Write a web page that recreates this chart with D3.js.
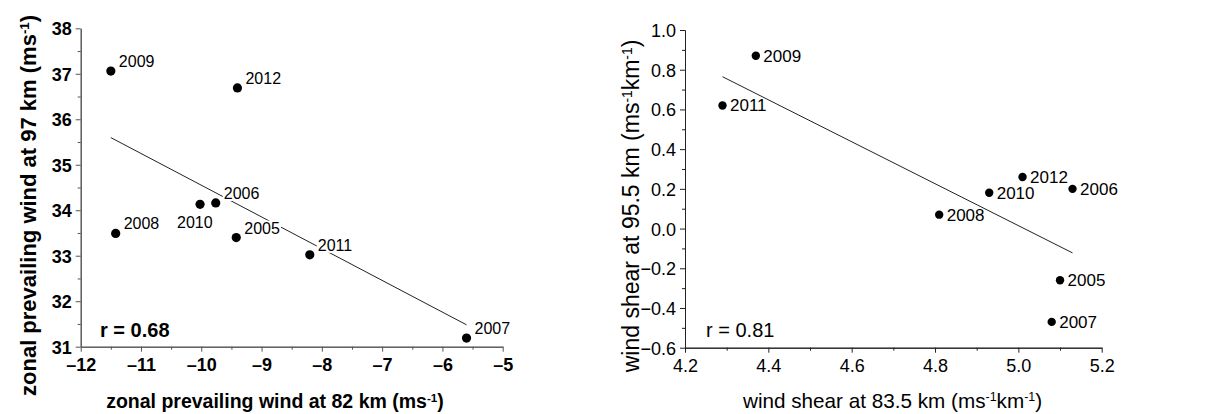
<!DOCTYPE html>
<html>
<head>
<meta charset="utf-8">
<script src="https://cdn.jsdelivr.net/npm/d3@7"></script>
<style>
  body { margin: 0; background: #fff; }
  svg { font-family: "Liberation Sans", Arial, sans-serif; }
</style>
</head>
<body>
<svg id="chart" width="1208" height="414"></svg>
<script>
/* ---------------------------------------------
 * DATA
 * -------------------------------------------*/
const years = ['2009', '2012', '2006', '2010', '2008', '2005', '2011', '2007'];

// left panel: zonal prevailing wind (m/s)
const wind82 = [-11.50, -9.40, -9.76, -10.02, -11.42, -9.42, -8.20, -5.60];
const wind97 = [37.06, 36.69, 34.16, 34.13, 33.49, 33.40, 33.02, 31.19];

// right panel: wind shear (m/s/km)
const yearsR = ['2009', '2011', '2012', '2010', '2006', '2008', '2005', '2007'];
const shear835 = [4.37, 4.29, 5.01, 4.93, 5.13, 4.81, 5.10, 5.08];
const shear955 = [0.87, 0.62, 0.26, 0.18, 0.20, 0.07, -0.26, -0.47];

const leftTicksX = [-12, -11, -10, -9, -8, -7, -6, -5];
const leftTicksY = [31, 32, 33, 34, 35, 36, 37, 38];
const rightTicksX = [4.2, 4.4, 4.6, 4.8, 5.0, 5.2];
const rightTicksY = [-0.6, -0.4, -0.2, 0.0, 0.2, 0.4, 0.6, 0.8, 1.0];

const svg = d3.select('#chart');

// least squares fit, drawn over the range of the data
function fit(xs, ys){
  const mx = d3.mean(xs), my = d3.mean(ys);
  let sxy = 0, sxx = 0;
  xs.forEach((x,i)=>{ sxy += (x-mx)*(ys[i]-my); sxx += (x-mx)*(x-mx); });
  const b = sxy/sxx, a = my - b*mx;
  const x0 = d3.min(xs), x1 = d3.max(xs);
  return [[x0, a+b*x0], [x1, a+b*x1]];
}

function minorOf(ticks){
  const out = [];
  for(let i=0;i<ticks.length-1;i++) out.push((ticks[i]+ticks[i+1])/2);
  return out;
}

function panel(opt){
  const g = svg.append('g');
  const x = d3.scaleLinear().domain(opt.xDomain).range(opt.xRange);
  const y = d3.scaleLinear().domain(opt.yDomain).range(opt.yRange);
  const bottom = opt.yRange[0], left = opt.xRange[0];

  // minor ticks
  g.append('g').attr('transform', `translate(0,${bottom})`)
    .call(d3.axisBottom(x).tickValues(minorOf(opt.ticksX)).tickSize(3).tickSizeOuter(0).tickFormat(''));
  g.append('g').attr('transform', `translate(${left},0)`)
    .call(d3.axisLeft(y).tickValues(minorOf(opt.ticksY)).tickSize(3).tickSizeOuter(0).tickFormat(''));

  const ax = g.append('g').attr('transform', `translate(0,${bottom})`)
    .call(d3.axisBottom(x).tickValues(opt.ticksX).tickSize(5).tickSizeOuter(0).tickPadding(7)
      .tickFormat(opt.fmtX));
  const ay = g.append('g').attr('transform', `translate(${left},0)`)
    .call(d3.axisLeft(y).tickValues(opt.ticksY).tickSize(5).tickSizeOuter(0).tickPadding(4)
      .tickFormat(opt.fmtY));
  [ax, ay].forEach(a=>{
    a.selectAll('text').attr('font-family','"Liberation Sans", Arial, sans-serif')
      .attr('font-size', opt.tickSize).attr('font-weight', opt.bold ? 'bold' : 'normal').attr('fill','#000');
  });
  ay.selectAll('text').attr('dy','0.36em');
  g.selectAll('.domain, .tick line').attr('stroke', opt.axisColor);

  // fit line
  const f = fit(opt.xs, opt.ys);
  g.append('line')
    .attr('x1', x(f[0][0])).attr('y1', y(f[0][1]))
    .attr('x2', x(f[1][0])).attr('y2', y(f[1][1]))
    .attr('stroke', '#222').attr('stroke-width', 1);

  // points
  g.selectAll('circle.pt').data(opt.xs).join('circle')
    .attr('class','pt')
    .attr('cx', d=>x(d)).attr('cy', (d,i)=>y(opt.ys[i]))
    .attr('r', opt.r).attr('fill','#000');

  // point labels
  const lab = g.append('g');
  opt.labels.forEach((t,i)=>{
    const off = (opt.labelOffset[t]) || opt.defaultOffset;
    const px = x(opt.xs[i]) + off[0], py = y(opt.ys[i]) + off[1];
    const lg = lab.append('g');
    const txt = lg.append('text').attr('x', px).attr('y', py)
      .attr('font-size', opt.labelSize).attr('fill','#000').text(t);
    if(opt.labelBg){
      const bb = txt.node().getBBox();
      lg.insert('rect','text').attr('x', bb.x-1).attr('y', bb.y+1)
        .attr('width', bb.width+2).attr('height', bb.height-2).attr('fill','#fff');
    }
  });

  // r value
  g.append('text').attr('x', opt.rPos[0]).attr('y', opt.rPos[1])
    .attr('font-size', 20).attr('font-weight', opt.bold ? 'bold' : 'normal').text(opt.rText);

  // axis titles
  const tx = g.append('text').attr('x', opt.xTitlePos[0]).attr('y', opt.xTitlePos[1])
    .attr('text-anchor','middle').attr('font-size', opt.xTitleSize)
    .attr('font-weight', opt.bold ? 'bold' : 'normal');
  addSup(tx, opt.xTitle);
  const ty = g.append('text')
    .attr('transform', `translate(${opt.yTitlePos[0]},${opt.yTitlePos[1]}) rotate(-90)`)
    .attr('text-anchor','middle').attr('font-size', opt.yTitleSize)
    .attr('font-weight', opt.bold ? 'bold' : 'normal');
  addSup(ty, opt.yTitle);
}

// parts: [text, isSuperscript]
function addSup(sel, parts){
  parts.forEach(p=>{
    const s = sel.append('tspan').text(p[0]);
    if(p[1]) s.attr('font-size','0.6em').attr('baseline-shift','super');
  });
}

panel({
  xs: wind82, ys: wind97, labels: years,
  xDomain: [-12, -5], xRange: [80.7, 502.7],
  yDomain: [31, 38], yRange: [346.7, 28.3],
  ticksX: leftTicksX, ticksY: leftTicksY,
  fmtX: d=>String(d).replace('-', '\u2013'), fmtY: d3.format('d'),
  tickSize: 18, bold: true, axisColor: '#555', r: 4.6,
  labelSize: 16, labelBg: true,
  defaultOffset: [8, -4], labelOffset: { '2010': [-23, 24] },
  rText: 'r = 0.68', rPos: [100, 337],
  xTitle: [['zonal prevailing wind at 82 km (ms'], ['-1', true], [')']],
  xTitlePos: [275, 408], xTitleSize: 19.5,
  yTitle: [['zonal prevailing wind at 97 km (ms'], ['-1', true], [')']],
  yTitlePos: [36, 205.5], yTitleSize: 22
});

panel({
  xs: shear835, ys: shear955, labels: yearsR,
  xDomain: [4.2, 5.2], xRange: [685, 1101.7],
  yDomain: [-0.6, 1.0], yRange: [347.7, 30],
  ticksX: rightTicksX, ticksY: rightTicksY,
  fmtX: d3.format('.1f'), fmtY: d3.format('.1f'),
  tickSize: 18, bold: false, axisColor: '#222', r: 4.2,
  labelSize: 17, labelBg: false,
  defaultOffset: [7.5, 6], labelOffset: {},
  rText: 'r = 0.81', rPos: [706, 337],
  xTitle: [['wind shear at 83.5 km (ms'], ['-1', true], ['km'], ['-1', true], [')']],
  xTitlePos: [892.5, 408], xTitleSize: 20.7,
  yTitle: [['wind shear at 95.5 km (ms'], ['-1', true], ['km'], ['-1', true], [')']],
  yTitlePos: [639, 206], yTitleSize: 23
});
</script>
</body>
</html>
